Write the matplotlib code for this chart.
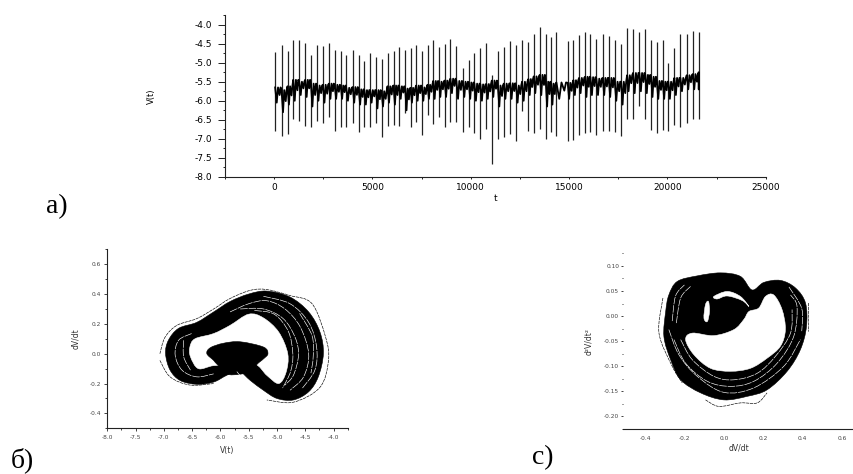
#!/usr/bin/env python3
"""Time series V(t) and its two phase portraits, panels a), b), c)."""
import matplotlib

matplotlib.use("Agg")
import matplotlib.pyplot as plt
from matplotlib.patches import PathPatch
from matplotlib.path import Path
from matplotlib.ticker import FormatStrFormatter, MultipleLocator

W, H = 854, 474
INK = "#222222"

plt.rcParams["axes.unicode_minus"] = False
plt.rcParams["font.family"] = ["DejaVu Sans"]

# ── a) V(t): spikes ───────────────────────────────────────────────────
spike_t = [50, 375, 680, 970, 1275, 1580, 1870, 2175, 2480, 2790, 3075, 3385, 3670, 3995, 4300,
           4590, 4880, 5185, 5460, 5765, 6070, 6360, 6665, 6935, 7225, 7515, 7800, 8090, 8380, 8670,
           8965, 9270, 9595, 9900, 10185, 10490, 10795, 11070, 11375, 11680, 12000, 12305, 12610, 12930,
           13205, 13510, 13815, 14085, 14355, 14930, 15220, 15510, 15815, 16085, 16390, 16710, 17015,
           17320, 17645, 17950, 18255, 18575, 18880, 19170, 19460, 19765, 20050, 20355, 20660, 20985,
           21290, 21595]
spike_top = [-4.73, -4.55, -4.70, -4.40, -4.41, -4.48, -4.79, -4.55, -4.57, -4.48, -4.66, -4.70, -4.79, -4.66, -4.79,
             -4.95, -4.75, -4.84, -4.91, -4.75, -4.70, -4.59, -4.66, -4.62, -4.53, -4.70, -4.55, -4.41, -4.59, -4.50,
             -4.37, -4.57, -5.14, -4.92, -4.76, -4.62, -4.48, -5.32, -4.69, -4.60, -4.44, -4.55, -4.41, -4.46,
             -4.25, -4.07, -4.26, -4.33, -4.19, -4.44, -4.41, -4.28, -4.19, -4.26, -4.37, -4.25, -4.29,
             -4.40, -4.50, -4.09, -4.11, -4.20, -4.11, -4.40, -4.46, -4.40, -5.01, -4.62, -4.25, -4.26,
             -4.16, -4.20]
spike_bottom = [-6.79, -6.93, -6.87, -6.49, -6.52, -6.66, -6.68, -6.52, -6.58, -6.42, -6.79, -6.68, -6.68, -6.58, -6.81,
                -6.70, -6.70, -6.59, -6.95, -6.65, -6.63, -6.65, -6.33, -6.68, -6.55, -6.90, -6.37, -6.61, -6.42, -6.68,
                -6.55, -6.55, -6.81, -6.70, -6.84, -6.99, -6.73, -7.65, -6.99, -6.95, -6.86, -7.06, -6.26, -6.79,
                -6.84, -6.73, -6.99, -6.81, -6.93, -7.06, -7.03, -6.90, -6.84, -6.81, -6.90, -6.79, -6.79,
                -6.81, -6.93, -6.49, -6.49, -6.15, -6.49, -6.77, -6.84, -6.77, -6.79, -6.64, -6.68, -6.58,
                -6.49, -6.47]
# upper and lower edge of the noisy trace between two spikes
trace_hi = [-5.65, -5.72, -5.62, -5.45, -5.5, -5.45, -5.55, -5.6, -5.58, -5.55, -5.58, -5.6, -5.66, -5.64, -5.7,
            -5.72, -5.72, -5.72, -5.75, -5.62, -5.6, -5.62, -5.68, -5.66, -5.6, -5.65, -5.58, -5.48, -5.5, -5.47,
            -5.42, -5.48, -5.5, -5.52, -5.55, -5.57, -5.56, -5.47, -5.6, -5.55, -5.54, -5.6, -5.5, -5.43,
            -5.36, -5.32, -5.5, -5.55, -5.52, -5.53, -5.46, -5.4, -5.37, -5.38, -5.42, -5.4, -5.4,
            -5.5, -5.5, -5.33, -5.27, -5.27, -5.32, -5.37, -5.48, -5.5, -5.5, -5.4, -5.4, -5.33,
            -5.3, -5.26]
trace_lo = [-6.05, -6.3, -6.1, -6.0, -5.85, -5.9, -6.15, -6.0, -6.05, -5.95, -5.95, -5.95, -6.0, -6.05, -6.1,
            -6.1, -6.05, -6.2, -6.15, -6.05, -6.1, -5.95, -6.25, -6.05, -6.0, -6.0, -5.95, -5.95, -5.9, -5.9,
            -5.8, -5.95, -5.9, -5.95, -6.0, -6.0, -5.95, -5.9, -6.15, -5.95, -5.95, -6.05, -6.0, -5.85,
            -5.8, -5.85, -6.15, -6.1, -5.95, -5.95, -5.85, -5.8, -5.9, -5.85, -5.85, -5.85, -5.9,
            -6.0, -6.1, -5.75, -5.8, -5.75, -5.8, -5.9, -5.95, -5.95, -5.95, -5.85, -5.75, -5.7,
            -5.7, -5.7]

# ── b) dV/dt against V(t) ─────────────────────────────────────────────
b_outer = [(-6.97, 0.0), (-6.92, 0.09), (-6.74, 0.17), (-6.42, 0.21), (-6.12, 0.28), (-5.83, 0.35), (-5.50, 0.40),
           (-5.18, 0.42), (-4.77, 0.38), (-4.44, 0.28), (-4.24, 0.145), (-4.18, 0.0), (-4.27, -0.155), (-4.44, -0.255),
           (-4.71, -0.31), (-5.0, -0.30), (-5.24, -0.245), (-5.47, -0.18), (-5.68, -0.115), (-5.89, -0.145),
           (-6.12, -0.19), (-6.42, -0.205), (-6.71, -0.18), (-6.89, -0.11)]
b_hole = [(-6.45, 0.10), (-6.12, 0.135), (-5.83, 0.19), (-5.50, 0.265), (-5.24, 0.24), (-4.97, 0.145), (-4.81, 0.0),
          (-4.84, -0.125), (-4.97, -0.20), (-5.18, -0.145), (-5.39, -0.07), (-5.77, -0.08), (-6.12, -0.08),
          (-6.39, -0.10), (-6.53, -0.02), (-6.54, 0.045)]
b_blob = [(-6.24, 0.0), (-6.18, 0.04), (-5.95, 0.07), (-5.65, 0.08), (-5.24, 0.045), (-5.16, 0.0), (-5.24, -0.035),
          (-5.35, -0.07), (-5.45, -0.12), (-5.85, -0.14), (-6.05, -0.075), (-6.12, -0.045)]
b_gaps = [
    [(-5.83, 0.28), (-5.50, 0.335), (-5.18, 0.355), (-4.86, 0.30), (-4.59, 0.18), (-4.44, 0.0), (-4.53, -0.155), (-4.77, -0.245)],
    [(-5.65, 0.30), (-5.24, 0.30), (-4.89, 0.235), (-4.68, 0.11), (-4.62, -0.01), (-4.71, -0.145), (-4.86, -0.21)],
    [(-5.24, 0.385), (-4.77, 0.335), (-4.44, 0.21), (-4.30, 0.045), (-4.33, -0.11), (-4.56, -0.235)],
    [(-5.40, 0.29), (-5.05, 0.265), (-4.80, 0.15), (-4.72, 0.0), (-4.76, -0.12), (-4.90, -0.23)],
    [(-4.60, 0.27), (-4.38, 0.12), (-4.36, -0.02), (-4.40, -0.13)],
    [(-6.51, 0.135), (-6.74, 0.09), (-6.80, -0.01), (-6.68, -0.11), (-6.42, -0.155), (-6.12, -0.135)],
    [(-6.65, 0.09), (-6.65, -0.02), (-6.53, -0.11)],
    [(-5.71, -0.12), (-5.50, -0.21), (-5.24, -0.28)],
]
b_strays = [
    [(-7.07, 0.0), (-6.98, 0.11), (-6.77, 0.19), (-6.42, 0.235), (-6.12, 0.30), (-5.83, 0.37), (-5.47, 0.425),
     (-5.18, 0.43), (-4.77, 0.39), (-4.38, 0.335), (-4.14, 0.11), (-4.09, -0.045), (-4.24, -0.225), (-4.71, -0.325),
     (-5.18, -0.31)],
    [(-7.07, -0.045), (-6.89, -0.155), (-6.54, -0.21), (-6.12, -0.20)],
]

# ── c) d2V/dt2 against dV/dt ──────────────────────────────────────────
c_outer = [(-0.295, 0.009), (-0.279, 0.042), (-0.236, 0.069), (-0.135, 0.080), (-0.017, 0.086), (0.084, 0.079),
           (0.143, 0.052), (0.203, 0.067), (0.287, 0.071), (0.363, 0.056), (0.414, 0.026), (0.419, -0.021),
           (0.388, -0.067), (0.321, -0.110), (0.219, -0.147), (0.118, -0.160), (0.0, -0.167), (-0.118, -0.153),
           (-0.219, -0.127), (-0.270, -0.087), (-0.304, -0.041)]
c_hole = [(-0.194, -0.047), (-0.152, -0.077), (-0.068, -0.104), (0.034, -0.110), (0.135, -0.104), (0.219, -0.084),
          (0.287, -0.060), (0.312, -0.027), (0.295, 0.013), (0.253, 0.042), (0.211, 0.039), (0.177, 0.016),
          (0.127, 0.009), (0.101, -0.007), (0.051, -0.027), (-0.051, -0.039), (-0.160, -0.034)]
c_crescent = [(-0.051, 0.039), (0.017, 0.049), (0.084, 0.039), (0.127, 0.019), (0.093, 0.031), (0.017, 0.040),
              (-0.034, 0.034)]
c_eye = [(-0.101, -0.004), (-0.093, 0.023), (-0.078, 0.029), (-0.073, 0.009), (-0.084, -0.011)]
c_gaps = [
    [(-0.253, -0.047), (-0.194, -0.094), (-0.084, -0.130), (0.034, -0.140), (0.152, -0.130), (0.270, -0.094),
     (0.354, -0.041), (0.371, 0.019), (0.338, 0.042)],
    [(-0.219, -0.047), (-0.160, -0.087), (-0.051, -0.120), (0.051, -0.127), (0.169, -0.114), (0.262, -0.080),
     (0.338, -0.034), (0.346, 0.013)],
    [(-0.279, -0.027), (-0.228, -0.077), (-0.135, -0.120), (0.0, -0.152), (0.152, -0.143), (0.304, -0.100),
     (0.388, -0.047)],
    [(-0.241, -0.014), (-0.219, 0.036), (-0.169, 0.059)],
    [(-0.262, -0.010), (-0.245, 0.040), (-0.200, 0.062)],
    [(0.330, 0.058), (0.395, 0.015), (0.395, -0.030)],
]
c_strays = [
    [(-0.093, -0.167), (-0.025, -0.180), (0.084, -0.173), (0.169, -0.173), (0.219, -0.153)],
    [(-0.309, 0.036), (-0.329, -0.034), (-0.262, -0.100), (-0.211, -0.133)],
    [(-0.008, -0.054), (-0.051, -0.037)],
    [(0.430, 0.026), (0.430, -0.031)],
]


def px_axes(fig, left, top, right, bottom):
    """Axes placed by pixel edges of the figure."""
    ax = fig.add_axes([left / W, 1 - bottom / H, (right - left) / W, (bottom - top) / H])
    ax.spines["top"].set_visible(False)
    ax.spines["right"].set_visible(False)
    for s in ax.spines.values():
        s.set_color(INK)
        s.set_linewidth(0.8)
    ax.patch.set_alpha(0)
    return ax


def bezier(pts, closed):
    """Catmull-Rom curve through the read points, as a Path."""
    n = len(pts)

    def at(i):
        return pts[i % n] if closed else pts[min(max(i, 0), n - 1)]

    verts, codes = [pts[0]], [Path.MOVETO]
    for i in range(n if closed else n - 1):
        p0, p1, p2, p3 = at(i - 1), at(i), at(i + 1), at(i + 2)
        verts.append((p1[0] + (p2[0] - p0[0]) / 6, p1[1] + (p2[1] - p0[1]) / 6))
        verts.append((p2[0] - (p3[0] - p1[0]) / 6, p2[1] - (p3[1] - p1[1]) / 6))
        verts.append(p2)
        codes += [Path.CURVE4] * 3
    return Path(verts, codes)


def blob(ax, pts, color):
    ax.add_patch(PathPatch(bezier(pts, True), facecolor=color, edgecolor=color, linewidth=0.4))


def curves(ax, paths, color, lw, ls="-"):
    for pts in paths:
        ax.add_patch(PathPatch(bezier(pts, False), facecolor="none", edgecolor=color, linewidth=lw, linestyle=ls))


fig = plt.figure(figsize=(W / 100, H / 100), dpi=100)

# ── Panel a ───────────────────────────────────────────────────────────
ax = px_axes(fig, 225, 15, 765.7, 177)
ax.set_xlim(-2500, 25000)
ax.set_ylim(-8.0, -3.75)
ax.vlines(spike_t, spike_bottom, spike_top, color="#222222", lw=0.9)
trace_t, trace_v = [], []
next_t = spike_t[1:] + [spike_t[-1]]
for t, t2, hi, lo in zip(spike_t, next_t, trace_hi, trace_lo, strict=True):
    dt = t2 - t
    trace_t += [t, t + 0.25 * dt, t + 0.45 * dt, t + 0.7 * dt, t + 0.85 * dt]
    trace_v += [hi, lo, hi, (hi + lo) / 2, hi]
ax.plot(trace_t, trace_v, color="black", lw=1.3)
ax.xaxis.set_major_locator(MultipleLocator(5000))
ax.xaxis.set_minor_locator(MultipleLocator(2500))
ax.yaxis.set_major_locator(MultipleLocator(0.5))
ax.yaxis.set_minor_locator(MultipleLocator(0.25))
ax.yaxis.set_major_formatter(FormatStrFormatter("%.1f"))
ax.tick_params(axis="y", which="major", length=5, width=0.7, labelsize=6.5, pad=4, color=INK)
ax.tick_params(axis="y", which="minor", length=1.5, width=0.7, color=INK)
ax.tick_params(axis="x", which="major", length=1.5, width=0.7, labelsize=6.5, pad=3, color=INK)
ax.tick_params(axis="x", which="minor", length=1.5, width=0.7, color=INK)
ax.set_xlabel("t", fontsize=6.5, labelpad=1)
ax.set_ylabel("V(t)", fontsize=6, labelpad=28)

# ── Panel b ───────────────────────────────────────────────────────────
ax = px_axes(fig, 107.3, 249.3, 347.7, 428.3)
ax.set_xlim(-8.0, -3.75)
ax.set_ylim(-0.5, 0.7)
curves(ax, b_strays, "black", 0.45, (0, (5, 1.2)))
blob(ax, b_outer, "black")
blob(ax, b_hole, "white")
blob(ax, b_blob, "black")
curves(ax, b_gaps, "white", 0.45, (0, (12, 1.5)))
ax.xaxis.set_major_locator(MultipleLocator(0.5))
ax.xaxis.set_minor_locator(MultipleLocator(0.25))
ax.yaxis.set_major_locator(MultipleLocator(0.2))
ax.yaxis.set_minor_locator(MultipleLocator(0.1))
ax.xaxis.set_major_formatter(FormatStrFormatter("%.1f"))
ax.yaxis.set_major_formatter(FormatStrFormatter("%.1f"))
ax.tick_params(which="major", length=2.5, width=0.6, labelsize=4.2, pad=2, color=INK, labelcolor="#444444")
ax.tick_params(which="minor", length=1.3, width=0.6, color=INK)
ax.set_xlabel("V(t)", fontsize=5.5, labelpad=5, color="#333333")
ax.set_ylabel("dV/dt", fontsize=5.5, labelpad=7, color="#333333")

# ── Panel c ───────────────────────────────────────────────────────────
ax = px_axes(fig, 623.3, 253.3, 854, 429)
ax.set_xlim(-0.51, 0.66)
ax.set_ylim(-0.225, 0.125)
ax.spines["left"].set_visible(False)
curves(ax, c_strays, "black", 0.45, (0, (5, 1.2)))
blob(ax, c_outer, "black")
blob(ax, c_hole, "white")
blob(ax, c_crescent, "white")
blob(ax, c_eye, "white")
curves(ax, c_gaps, "white", 0.45, (0, (12, 1.5)))
ax.xaxis.set_major_locator(MultipleLocator(0.2))
ax.yaxis.set_major_locator(MultipleLocator(0.05))
ax.yaxis.set_minor_locator(MultipleLocator(0.025))
ax.xaxis.set_major_formatter(FormatStrFormatter("%.1f"))
ax.yaxis.set_major_formatter(FormatStrFormatter("%.2f"))
ax.tick_params(axis="x", which="major", length=0, labelsize=4.2, pad=5, labelcolor="#444444")
ax.tick_params(axis="y", which="major", length=1.5, width=0.6, labelsize=4.2, pad=1.5, color=INK, labelcolor="#444444")
ax.tick_params(axis="y", which="minor", length=0.8, width=0.6, color=INK)
ax.set_xlabel("dV/dt", fontsize=5.5, labelpad=2, color="#333333")
ax.set_ylabel("d²V/dt²", fontsize=5.5, labelpad=8, color="#333333")

# ── Panel letters ─────────────────────────────────────────────────────
for label, x, y in [("a)", 46, 213), ("б)", 11, 467), ("c)", 532, 464)]:
    fig.text(x / W, 1 - y / H, label, fontsize=20, family="Liberation Serif", va="baseline", color="black")

fig.savefig("out.png", dpi=100)
